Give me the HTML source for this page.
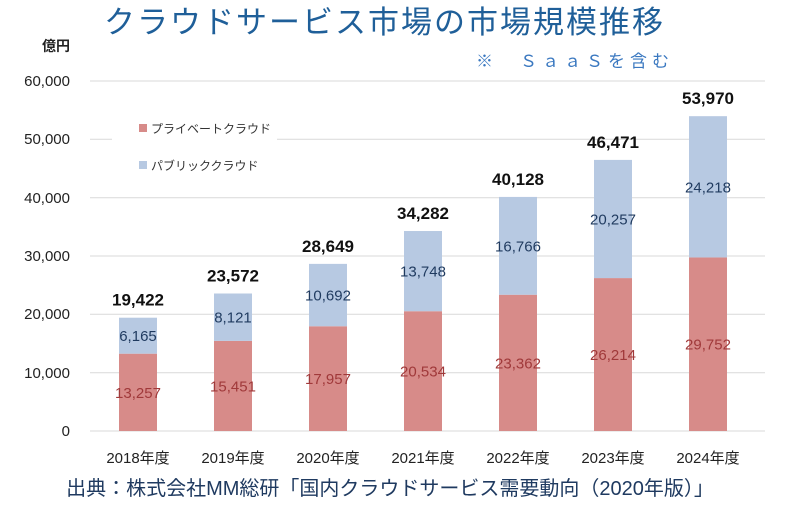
<!DOCTYPE html>
<html><head><meta charset="utf-8"><style>
body{margin:0;background:#fff;}
svg text{font-family:"Liberation Sans","Noto Sans CJK JP",sans-serif;}
</style></head><body>
<svg width="800" height="522" viewBox="0 0 800 522" xmlns="http://www.w3.org/2000/svg">
<text x="104" y="33" font-size="31" fill="#1f5f99" letter-spacing="2">クラウドサービス市場の市場規模推移</text>
<text x="476" y="67" font-size="17" fill="#3a78c0" letter-spacing="5">※　ＳａａＳを含む</text>
<text x="70" y="51" font-size="14" font-weight="bold" fill="#222" text-anchor="end">億円</text>
<g stroke="#d9d9d9" stroke-width="1">
<line x1="90" x2="765" y1="81" y2="81"/><line x1="90" x2="765" y1="139.3" y2="139.3"/>
<line x1="90" x2="765" y1="197.7" y2="197.7"/><line x1="90" x2="765" y1="256" y2="256"/>
<line x1="90" x2="765" y1="314.3" y2="314.3"/><line x1="90" x2="765" y1="372.7" y2="372.7"/>
<line x1="90" x2="765" y1="431" y2="431"/></g>
<rect x="112" y="115" width="165" height="70" fill="#fff"/>
<g font-size="15" fill="#222" text-anchor="end">
<text x="70" y="86">60,000</text><text x="70" y="144">50,000</text><text x="70" y="203">40,000</text>
<text x="70" y="261">30,000</text><text x="70" y="319">20,000</text><text x="70" y="378">10,000</text><text x="70" y="436">0</text></g>
<rect x="139" y="124" width="8" height="8" fill="#d78b89"/>
<text x="151" y="133" font-size="12" fill="#333">プライベートクラウド</text>
<rect x="139" y="161" width="8" height="8" fill="#b7c9e2"/>
<text x="151" y="170" font-size="12" fill="#333">パブリッククラウド</text>

<g fill="#d78b89">
<rect x="119" y="353.67" width="38" height="77.33"/>
<rect x="214" y="340.87" width="38" height="90.13"/>
<rect x="309" y="326.25" width="38" height="104.75"/>
<rect x="404" y="311.22" width="38" height="119.78"/>
<rect x="499" y="294.72" width="38" height="136.28"/>
<rect x="594" y="278.08" width="38" height="152.92"/>
<rect x="689" y="257.45" width="38" height="173.55"/>
</g>
<g fill="#b7c9e2">
<rect x="119" y="317.71" width="38" height="35.96"/>
<rect x="214" y="293.5" width="38" height="47.37"/>
<rect x="309" y="263.88" width="38" height="62.37"/>
<rect x="404" y="231.02" width="38" height="80.2"/>
<rect x="499" y="196.92" width="38" height="97.8"/>
<rect x="594" y="159.91" width="38" height="118.17"/>
<rect x="689" y="116.18" width="38" height="141.27"/>
</g>
<g font-size="15" fill="#a0393a" text-anchor="middle">
<text x="138" y="397.8">13,257</text><text x="233" y="391.4">15,451</text><text x="328" y="384.1">17,957</text>
<text x="423" y="376.6">20,534</text><text x="518" y="368.4">23,362</text><text x="613" y="360">26,214</text><text x="708" y="349.7">29,752</text>
</g>
<g font-size="15" fill="#1f3a5f" text-anchor="middle">
<text x="138" y="341.2">6,165</text><text x="233" y="322.7">8,121</text><text x="328" y="300.6">10,692</text>
<text x="423" y="276.6">13,748</text><text x="518" y="251.3">16,766</text><text x="613" y="224.5">20,257</text><text x="708" y="192.3">24,218</text>
</g>
<g font-size="17" font-weight="bold" fill="#111" text-anchor="middle">
<text x="138" y="305.7">19,422</text><text x="233" y="281.5">23,572</text><text x="328" y="251.9">28,649</text>
<text x="423" y="219">34,282</text><text x="518" y="184.9">40,128</text><text x="613" y="147.9">46,471</text><text x="708" y="104.2">53,970</text>
</g>
<g font-size="15" fill="#222" text-anchor="middle">
<text x="138" y="463">2018年度</text><text x="233" y="463">2019年度</text><text x="328" y="463">2020年度</text>
<text x="423" y="463">2021年度</text><text x="518" y="463">2022年度</text><text x="613" y="463">2023年度</text><text x="708" y="463">2024年度</text>
</g>
<text x="390" y="495" font-size="20" fill="#1f3a60" text-anchor="middle">出典：株式会社MM総研「国内クラウドサービス需要動向（2020年版）」</text>
</svg>
</body></html>
